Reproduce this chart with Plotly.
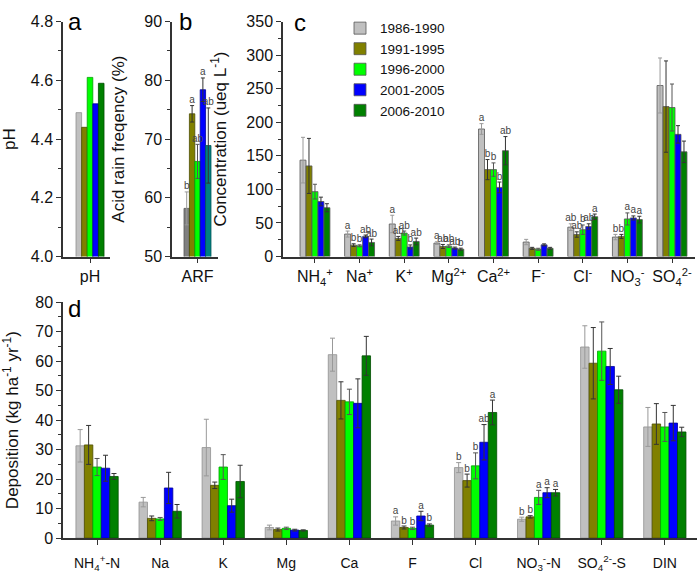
import plotly.graph_objects as go

W, H = 698, 584

periods = ["1986-1990", "1991-1995", "1996-2000", "2001-2005", "2006-2010"]
colors = ["#c0c0c0", "#808000", "#00ff00", "#0000ff", "#008000"]
edges = ["#909090", "#4d4d00", "#00a000", "#000099", "#004d00"]
colors_b = ["#808080", "#808000", "#00ff00", "#0000ff", "#008080"]
edges_b = ["#555555", "#4d4d00", "#00a000", "#000099", "#005555"]
err_colors = ["#999999", "#333333", "#555555", "#333333", "#333333"]

# panel a - pH
ph_vals = [4.49, 4.44, 4.61, 4.52, 4.59]

# panel b - acid rain frequency
arf_vals = [58.2, 74.3, 66.2, 78.4, 68.9]
arf_err = [2.8, 1.4, 2.9, 2.0, 6.4]
arf_letters = ["b", "a", "ab", "a", "ab"]

# panel c - concentration, one list per period (order of conc_labels)
conc_labels = ["NH<sub>4</sub><sup>+</sup>", "Na<sup>+</sup>", "K<sup>+</sup>", "Mg<sup>2+</sup>",
               "Ca<sup>2+</sup>", "F<sup>-</sup>", "Cl<sup>-</sup>", "NO<sub>3</sub><sup>-</sup>",
               "SO<sub>4</sub><sup>2-</sup>"]
conc_1986 = [143.6, 33.5, 48.5, 20.0, 190.0, 21.6, 43.8, 29.0, 254.8]
conc_1991 = [135.0, 17.0, 27.0, 15.0, 129.5, 12.2, 32.8, 30.0, 223.4]
conc_1996 = [96.7, 16.0, 35.0, 15.5, 129.5, 10.8, 40.0, 56.0, 222.0]
conc_2001 = [82.0, 30.0, 14.3, 12.6, 103.0, 17.4, 44.8, 57.5, 182.0]
conc_2006 = [72.7, 21.0, 22.5, 11.0, 157.7, 12.2, 59.3, 55.0, 156.0]
conc_err_1986 = [34, 4.5, 13, 2, 8, 4, 5, 4, 41]
conc_err_1991 = [41, 2, 3, 3, 15, 1.5, 4, 3, 68]
conc_err_1996 = [11, 1.5, 3, 2, 10, 1.5, 7, 9, 35]
conc_err_2001 = [6.5, 2, 3, 1.5, 8, 1.5, 4, 3, 13]
conc_err_2006 = [6, 5, 5, 1.5, 21, 1.5, 4, 5, 16]
conc_letters_1986 = ["", "a", "a", "a", "a", "", "ab", "b", ""]
conc_letters_1991 = ["", "b", "ab", "ab", "b", "", "ab", "b", ""]
conc_letters_1996 = ["", "b", "ab", "ab", "b", "", "b", "a", ""]
conc_letters_2001 = ["", "ab", "b", "ab", "b", "", "ab", "a", ""]
conc_letters_2006 = ["", "ab", "ab", "b", "ab", "", "a", "a", ""]

# panel d - deposition
dep_labels = ["NH<sub>4</sub><sup>+</sup>-N", "Na", "K", "Mg", "Ca", "F", "Cl",
              "NO<sub>3</sub><sup>-</sup>-N", "SO<sub>4</sub><sup>2-</sup>-S", "DIN"]
dep_1986 = [31.3, 12.2, 30.7, 3.6, 62.2, 5.8, 23.9, 6.4, 64.8, 37.7]
dep_1991 = [31.6, 6.7, 17.9, 2.9, 46.7, 3.6, 19.5, 7.2, 59.3, 38.7]
dep_1996 = [24.1, 6.5, 24.1, 3.3, 46.2, 3.3, 24.5, 13.8, 63.4, 37.7]
dep_2001 = [23.7, 17.0, 11.0, 2.7, 45.7, 7.5, 32.5, 15.4, 58.2, 39.0]
dep_2006 = [20.9, 9.1, 19.2, 2.6, 61.8, 4.4, 42.6, 15.4, 50.3, 36.0]
dep_err_1986 = [5.5, 1.6, 9.6, 0.8, 5.6, 1.4, 1.7, 0.7, 7.2, 6.6]
dep_err_1991 = [6.6, 0.8, 1.1, 0.5, 6.3, 0.5, 2.2, 0.4, 12.1, 6.9]
dep_err_1996 = [2.9, 0.5, 4.2, 0.4, 4.3, 0.4, 4.4, 2.4, 9.9, 4.9]
dep_err_2001 = [4.4, 5.3, 2.2, 0.3, 8.3, 1.6, 6.0, 1.7, 6.1, 6.0]
dep_err_2006 = [1.0, 2.3, 5.5, 0.2, 6.6, 0.4, 4.2, 1.1, 4.6, 1.6]
dep_letters_1986 = ["", "", "", "", "", "a", "b", "b", "", ""]
dep_letters_1991 = ["", "", "", "", "", "b", "b", "b", "", ""]
dep_letters_1996 = ["", "", "", "", "", "b", "b", "a", "", ""]
dep_letters_2001 = ["", "", "", "", "", "a", "ab", "a", "", ""]
dep_letters_2006 = ["", "", "", "", "", "b", "a", "a", "", ""]

# y tick values per panel
ph_ticks = [4.0, 4.2, 4.4, 4.6, 4.8]
arf_ticks = [50, 60, 70, 80, 90]
conc_ticks = [0, 50, 100, 150, 200, 250, 300, 350]
dep_ticks = [0, 10, 20, 30, 40, 50, 60, 70, 80]

conc_vals = [conc_1986, conc_1991, conc_1996, conc_2001, conc_2006]
conc_errs = [conc_err_1986, conc_err_1991, conc_err_1996, conc_err_2001, conc_err_2006]
conc_lets = [conc_letters_1986, conc_letters_1991, conc_letters_1996, conc_letters_2001, conc_letters_2006]
dep_vals = [dep_1986, dep_1991, dep_1996, dep_2001, dep_2006]
dep_errs = [dep_err_1986, dep_err_1991, dep_err_1996, dep_err_2001, dep_err_2006]
dep_lets = [dep_letters_1986, dep_letters_1991, dep_letters_1996, dep_letters_2001, dep_letters_2006]

BARGAP = 0.33
FONT = "Liberation Sans, Arial, sans-serif"
AX = "#333333"
STEP = (1 - BARGAP) / len(periods)


def px(x):
	return x / W


def py(y):
	return 1 - y / H


# panel frames in pixels: (left, right, bottom, top)
panels = [
	dict(box=(63, 110, 256, 14), xr=[-0.646, 0.478], yr=[4.0, 4.8], ticks=ph_ticks, minor=0.1,
		title="pH", letter="a", tsize=16),
	dict(box=(172, 218, 256, 14), xr=[-0.633, 0.509], yr=[50, 90], ticks=arf_ticks, minor=5,
		title="Acid rain freqency (%)", letter="b", tsize=16),
	dict(box=(283, 695, 256, 14), xr=[-0.716, 8.515], yr=[0, 350], ticks=conc_ticks, minor=25,
		title="Concentration (ueq L<sup>-1</sup>)", letter="c", tsize=16),
	dict(box=(63, 697, 546, 303), xr=[-0.54, 9.51], yr=[0, 80], ticks=dep_ticks, minor=5,
		title="Deposition (kg ha<sup>-1</sup> yr<sup>-1</sup>)", letter="d", tsize=14),
]


def to_data(pn, xpix, ypix):
	l, r, b, t = pn["box"]
	x0, x1 = pn["xr"]
	y0, y1 = pn["yr"]
	return x0 + (xpix - l) / (r - l) * (x1 - x0), y0 + (b - ypix) / (b - t) * (y1 - y0)


fig = go.Figure()

for j, p in enumerate(periods):
	fig.add_trace(go.Bar(x=["pH"], y=[ph_vals[j]], name=p, marker_color=colors[j],
		marker_line=dict(color=edges[j], width=0.8), showlegend=False, xaxis="x", yaxis="y", hoverinfo="skip"))
	fig.add_trace(go.Bar(x=["ARF"], y=[arf_vals[j]], name=p, marker_color=colors_b[j],
		marker_line=dict(color=edges_b[j], width=0.8), showlegend=False, xaxis="x2", yaxis="y2",
		error_y=dict(type="data", array=[arf_err[j]], color=err_colors[j], thickness=1, width=2)))
	fig.add_trace(go.Bar(x=conc_labels, y=conc_vals[j], name=p, marker_color=colors[j],
		marker_line=dict(color="#555555", width=0.8), showlegend=True, xaxis="x3", yaxis="y3",
		error_y=dict(type="data", array=conc_errs[j], color=err_colors[j], thickness=1, width=2)))
	fig.add_trace(go.Bar(x=dep_labels, y=dep_vals[j], name=p, marker_color=colors[j],
		marker_line=dict(color=edges[j], width=0.8), showlegend=False, xaxis="x4", yaxis="y4",
		error_y=dict(type="data", array=dep_errs[j], color=err_colors[j], thickness=1, width=2.5)))


def letter_trace(xaxis, yaxis, n, vals, errs, lets):
	# significance letters sitting just above each error cap
	xs, ys, ts = [], [], []
	for j in range(len(periods)):
		for i in range(n):
			if lets[j][i]:
				xs.append(i + (j - 2) * STEP)
				ys.append(vals[j][i] + errs[j][i])
				ts.append(lets[j][i])
	return go.Scatter(x=xs, y=ys, text=ts, mode="text", textposition="top center",
		textfont=dict(size=10, color="#444444", family=FONT), cliponaxis=False,
		showlegend=False, hoverinfo="skip", xaxis=xaxis, yaxis=yaxis)


fig.add_trace(letter_trace("x6", "y2", 1, [[v] for v in arf_vals], [[e] for e in arf_err],
	[[s] for s in arf_letters]))
fig.add_trace(letter_trace("x7", "y3", len(conc_labels), conc_vals, conc_errs, conc_lets))
fig.add_trace(letter_trace("x8", "y4", len(dep_labels), dep_vals, dep_errs, dep_lets))

# panel letters a-d
letter_pos = [(68, 16), (179, 16), (294, 17), (68, 312)]
for k, pn in enumerate(panels):
	lx, ly = to_data(pn, *letter_pos[k])
	fig.add_trace(go.Scatter(x=[lx], y=[ly], text=[pn["letter"]], mode="text", textposition="middle right",
		textfont=dict(size=24, color="#000000", family=FONT), cliponaxis=False, showlegend=False,
		hoverinfo="skip", xaxis="x" + str(k + 5), yaxis="y" if k == 0 else "y" + str(k + 1)))

axes = {}
for k, pn in enumerate(panels):
	l, r, b, t = pn["box"]
	sfx = "" if k == 0 else str(k + 1)
	axes["xaxis" + sfx] = dict(domain=[px(l), px(r)], range=pn["xr"], type="category",
		anchor="y" + sfx, showline=True, linecolor=AX, linewidth=1.5, showgrid=False, zeroline=False,
		ticks="outside", ticklen=5, tickcolor=AX, ticklabelstandoff=6 if k == 3 else 0,
		tickfont=dict(size=pn["tsize"], color="#111111", family=FONT))
	axes["yaxis" + sfx] = dict(domain=[py(b), py(t)], range=pn["yr"], tickvals=pn["ticks"],
		tickformat=".1f" if k == 0 else "", anchor="x" + sfx, showline=True, linecolor=AX,
		linewidth=1.5, showgrid=False, zeroline=False, ticks="outside", ticklen=5, tickcolor=AX,
		minor=dict(dtick=pn["minor"], ticks="outside", ticklen=3, tickcolor=AX),
		tickfont=dict(size=16, color="#111111", family=FONT),
		title=dict(text=pn["title"], font=dict(size=17, color="#111111", family=FONT)))
	# invisible linear twin axis used to place text inside the panel
	axes["xaxis" + str(k + 5)] = dict(overlaying="x" + sfx, range=pn["xr"], visible=False,
		anchor="y" + sfx, type="linear")

fig.update_layout(**axes)

fig.update_layout(
	barmode="group", bargap=BARGAP, bargroupgap=0,
	width=W, height=H, autosize=False,
	margin=dict(l=0, r=0, t=0, b=0),
	plot_bgcolor="white", paper_bgcolor="white",
	font=dict(family=FONT, color="#111111"),
	showlegend=True,
	legend=dict(x=px(340), y=py(5), xanchor="left", yanchor="top", bgcolor="rgba(0,0,0,0)",
		font=dict(size=13.5, color="#111111", family=FONT), itemwidth=30, tracegroupgap=0,
		traceorder="normal"),
)

# the page body has a default 8px margin; drop it so the figure fills the window
fig.write_html("out.html", post_script="document.body.style.margin='0';", config=dict(displayModeBar=False))
